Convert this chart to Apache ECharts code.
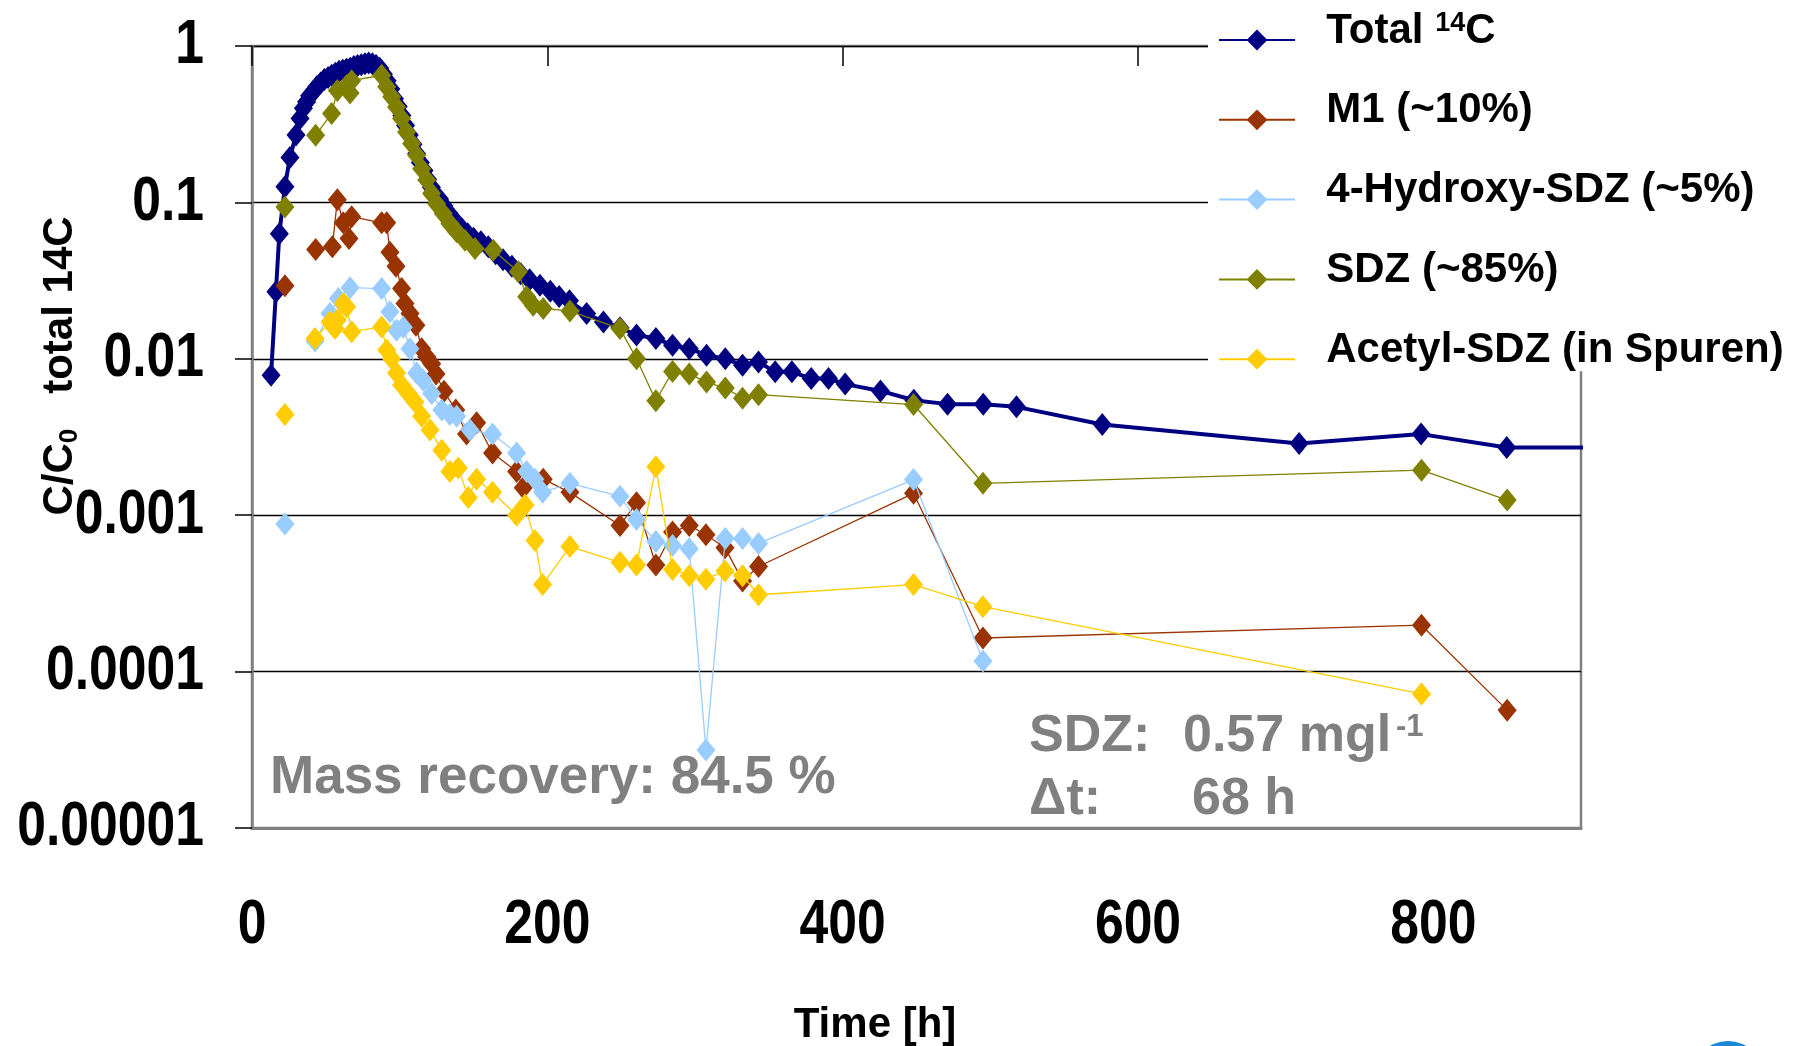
<!DOCTYPE html>
<html>
<head>
<meta charset="utf-8">
<title>SDZ breakthrough</title>
<script src="https://cdn.jsdelivr.net/npm/echarts@6/dist/echarts.min.js"></script>
<style>
  html, body { margin: 0; padding: 0; background: #fff; }
  #chart { width: 1795px; height: 1046px; }
</style>
</head>
<body>
<div id="chart"></div>
<script>
// values (time in h, C/C0); null = no sample, line breaks there
const seriesNames = ['Total 14C', 'M1 (~10%)', '4-Hydroxy-SDZ (~5%)', 'SDZ (~85%)', 'Acetyl-SDZ (in Spuren)'];
const xTickLabels = ['0', '200', '400', '600', '800'];
const yTickLabels = ['0.00001', '0.0001', '0.001', '0.01', '0.1', '1'];

const totalT = [12.9, 16.2, 18.5, 22.3, 25.7, 29.8, 32.5, 34.8, 37, 39, 41.5, 44, 46.5, 49, 51.5, 54, 56.5, 59, 61.5, 64,
  66.5, 69, 71.5, 74, 76.5, 79, 81.5, 84, 86.5, 89, 91.5, 94, 96.5, 99, 101.5, 104, 106.5, 109, 111.5, 114,
  116.5, 119, 121.5, 124, 127, 130, 133, 136, 139, 142, 146, 150, 155, 160, 165, 170, 176, 182, 188, 195,
  202, 208, 215, 226.6, 238, 249.2, 260.4, 273.5, 284.8, 296.1, 307.8, 320.5, 332.2, 343, 354.3, 365.6, 378.7, 390.4, 401.7, 425.6,
  448.2, 471, 495.2, 517.7, 575.8, 709.1, 791.7, 849.7, 908];
const totalV = [0.00785, 0.0268, 0.063, 0.126, 0.194, 0.27, 0.344, 0.40, 0.44, 0.48, 0.51, 0.55, 0.58, 0.61, 0.63, 0.65, 0.67, 0.69, 0.70, 0.71,
  0.72, 0.74, 0.75, 0.76, 0.77, 0.78, 0.77, 0.75, 0.72, 0.66, 0.60, 0.53, 0.46, 0.41, 0.36, 0.31, 0.27, 0.235, 0.205, 0.18,
  0.16, 0.14, 0.125, 0.112, 0.105, 0.095, 0.086, 0.079, 0.073, 0.068, 0.063, 0.059, 0.056, 0.052, 0.047, 0.043, 0.039, 0.035, 0.032, 0.0295,
  0.027, 0.025, 0.0235, 0.0195, 0.0172, 0.0158, 0.0142, 0.0135, 0.0122, 0.0116, 0.01055, 0.0100, 0.0091, 0.00955, 0.00825, 0.00825, 0.00748, 0.00748, 0.00689, 0.00623,
  0.00543, 0.00513, 0.00513, 0.00493, 0.0038, 0.00287, 0.0033, 0.00271, 0.00271];

const m1T = [22.3, 30, 43.1, 54.4, 57.8, 61.8, 65.7, 67.5, 87.8, 91.2, 93.4, 97.5, 101.3, 103.6, 107, 111, 114.9, 118.3, 121.7, 124.6, 130,
  138, 145.3, 152.1, 162.9, 179.2, 183.7, 197.2, 215.3, 249.2, 260.4, 273.5, 284.8, 296.1, 307.4, 320.3, 332.2, 343, 448, 495, 792, 850];
const m1V = [0.0293, null, 0.050, 0.052, 0.104, 0.074, 0.0587, 0.081, 0.074, 0.074, 0.048, 0.039, 0.0281, 0.0226, 0.0195, 0.0164, 0.0116, 0.0103, 0.0093, 0.0080, 0.0062,
  0.0047, 0.0033, 0.0039, 0.0025, 0.0019, 0.0015, 0.0017, 0.0014, 0.00086, 0.0012, 0.00048, 0.00078, 0.00086, 0.00075, 0.00062, 0.00038, 0.00047, 0.00138, 0.000164, 0.000198, 0.0000567];

const hydT = [22.3, 30, 42.7, 52.8, 58.5, 66.4, 87.8, 93.4, 97.9, 102.5, 107, 111.5, 116, 121.7, 128.5, 134, 138.6, 147.6, 162.9, 179.2, 186,
  191.6, 196.8, 215.3, 249.2, 260.4, 273.5, 284.8, 296.1, 307.4, 320.5, 332.2, 343, 448, 495];
const hydV = [0.00088, null, 0.0130, 0.0195, 0.0243, 0.0285, 0.0281, 0.020, 0.0152, 0.0159, 0.0116, 0.0081, 0.0073, 0.0060, 0.0047, 0.0044, 0.0043, 0.0035, 0.0033, 0.0025, 0.0019,
  0.0017, 0.0014, 0.0016, 0.00132, 0.00094, 0.00068, 0.00064, 0.00061, 0.0000315, 0.00071, 0.00071, 0.00066, 0.00169, 0.000117];

const sdzT = [22.3, 30, 43.1, 53.9, 57.8, 64.1, 66.4, 67.5, 87.8, 91.2, 94.6, 97.9, 101.3, 104.7, 108.1, 111.5, 114.9, 118.3, 121.6, 125, 129.5,
  134, 138.6, 144.2, 151, 163.4, 180.3, 186, 190.4, 197.2, 215.3, 249.2, 260.4, 273.5, 284.8, 296.1, 307.8, 320.5, 332.2, 343, 448,
  495, 792, 850];
const sdzV = [0.0936, null, 0.269, 0.37, 0.52, 0.56, 0.50, 0.60, 0.65, 0.548, 0.473, 0.408, 0.344, 0.282, 0.238, 0.2, 0.164, 0.139, 0.114, 0.098, 0.085,
  0.073, 0.065, 0.0573, 0.0507, 0.0494, 0.036, 0.0249, 0.022, 0.021, 0.0202, 0.0156, 0.0100, 0.0054, 0.0083, 0.0080, 0.0071, 0.0065, 0.0056, 0.0059, 0.0051,
  0.0016, 0.00194, 0.00125];

const acT = [22.3, 30, 42.7, 52.8, 56.2, 57.8, 61.8, 64.1, 67.5, 87.8, 91.2, 94.5, 97.9, 101.3, 105.8, 110.4, 114.9, 120.6, 128.5, 134, 139.7,
  146.5, 152.1, 162.9, 179.2, 184.9, 191.6, 196.8, 215.3, 249.2, 260.4, 273.5, 284.8, 296.1, 307.4, 320.3, 332.2, 343, 448, 495, 792];
const acV = [0.0044, null, 0.0135, 0.0172, 0.0156, 0.0177, 0.0226, 0.0215, 0.0149, 0.016, 0.0114, 0.0100, 0.0081, 0.0068, 0.0060, 0.0053, 0.0043, 0.0035, 0.0026, 0.0019, 0.0020,
  0.0013, 0.0017, 0.0014, 0.0010, 0.00116, 0.00069, 0.00036, 0.00063, 0.00050, 0.00048, 0.00204, 0.00045, 0.00041, 0.00039, 0.00044, 0.00041, 0.00031, 0.00036, 0.00026, 0.000072];

const colors = ['#000080', '#993300', '#99ccff', '#808000', '#ffcc00'];

const FONT = "'Liberation Sans', Arial, sans-serif";
// tick labels in the original are a narrow bold face; no narrow font here, so squeeze it
const TICK_FONT = 'bold 63px ' + FONT;
const TICK_SQUEEZE = 0.82;

function pairs(t, v) {
  return t.map((x, i) => [x, v[i] === null ? '-' : v[i]]);
}

const totalData = pairs(totalT, totalV);
// the last total point only carries the line past the frame
totalData[totalData.length - 1] = { value: totalData[totalData.length - 1], symbol: 'none' };

function lineSeries(idx, data, width) {
  return {
    name: seriesNames[idx],
    type: 'line',
    data: data,
    symbol: 'diamond',
    symbolSize: [19, 23],
    showAllSymbol: true,
    connectNulls: false,
    clip: idx !== 0,
    lineStyle: { color: colors[idx], width: width },
    itemStyle: { color: colors[idx] },
    emphasis: { disabled: true },
    z: 3 + idx
  };
}

const chart = echarts.init(document.getElementById('chart'));

const graphics = [
  {
    type: 'text', x: 60, y: 366, rotation: Math.PI / 2,
    style: {
      text: '{a|C/C}{s|0}{a|   total 14C}',
      align: 'center', verticalAlign: 'middle',
      rich: {
        a: { fontFamily: FONT, fontSize: 42, fontWeight: 'bold', fill: '#000', lineHeight: 46 },
        s: { fontFamily: FONT, fontSize: 26, fontWeight: 'bold', fill: '#000', lineHeight: 46, verticalAlign: 'bottom', padding: [12, 0, 0, 0] }
      }
    }
  },
  {
    type: 'text', x: 875, y: 1025,
    style: { text: 'Time [h]', font: 'bold 42px ' + FONT, fill: '#000', align: 'center', verticalAlign: 'middle' }
  },
  {
    type: 'text', x: 270, y: 778,
    style: { text: 'Mass recovery: 84.5 %', font: 'bold 53px ' + FONT, fill: '#808080', align: 'left', verticalAlign: 'middle' }
  },
  {
    type: 'text', x: 1029, y: 737,
    style: { text: 'SDZ:', font: 'bold 52px ' + FONT, fill: '#808080', align: 'left', verticalAlign: 'middle' }
  },
  {
    type: 'text', x: 1183, y: 737,
    style: { text: '0.57 mgl', font: 'bold 52px ' + FONT, fill: '#808080', align: 'left', verticalAlign: 'middle' }
  },
  {
    type: 'text', x: 1396, y: 727,
    style: { text: '-1', font: 'bold 31px ' + FONT, fill: '#808080', align: 'left', verticalAlign: 'middle' }
  },
  {
    type: 'text', x: 1029, y: 800,
    style: { text: '\u0394t:', font: 'bold 52px ' + FONT, fill: '#808080', align: 'left', verticalAlign: 'middle' }
  },
  {
    type: 'text', x: 1192, y: 800,
    style: { text: '68 h', font: 'bold 52px ' + FONT, fill: '#808080', align: 'left', verticalAlign: 'middle' }
  },
  {
    type: 'circle', shape: { cx: 1728, cy: 1077, r: 36 },
    style: { fill: '#1a8ad8' }
  }
];

const option = {
  animation: false,
  backgroundColor: '#fff',
  grid: {
    left: 252, top: 46, width: 1329, height: 782,
    outerBoundsMode: 'none',
    show: true, borderColor: '#808080', borderWidth: 2.5
  },
  legend: {
    data: seriesNames,
    orient: 'vertical',
    left: 1208, top: 0,
    padding: [10, 20, 0, 10],
    itemWidth: 76, itemHeight: 26,
    itemGap: 37.8,
    backgroundColor: '#fff',
    selectedMode: false,
    textStyle: {
      fontFamily: FONT, fontSize: 42, fontWeight: 'bold', color: '#000',
      padding: [0, 0, 0, 26],
      rich: {
        // g only sets a taller line box; t sits at its top so the text rides a bit above the icon
        g: { fontSize: 1, lineHeight: 60 },
        t: { fontFamily: FONT, fontSize: 42, fontWeight: 'bold', color: '#000', lineHeight: 44, verticalAlign: 'top' },
        sup: { fontFamily: FONT, fontSize: 27, fontWeight: 'bold', color: '#000', lineHeight: 27, verticalAlign: 'top' }
      }
    },
    formatter: function (name) {
      if (name === seriesNames[0]) return '{g| }{t|Total }{sup|14}{t|C}';
      return '{g| }{t|' + name + '}';
    }
  },
  xAxis: [{
    type: 'value', min: 0, max: 900, interval: 200,
    axisLine: { show: true, onZero: false, lineStyle: { color: '#808080', width: 3 } },
    axisTick: { show: false },
    splitLine: { show: false },
    axisLabel: { show: false }
  }, {
    type: 'value', position: 'top', min: 0, max: 900, interval: 200,
    axisLine: { show: false, onZero: false },
    axisTick: { show: true, inside: true, length: 20, lineStyle: { color: '#000', width: 1.5 } },
    axisLabel: { show: false },
    splitLine: { show: false }
  }],
  yAxis: {
    type: 'log', logBase: 10, min: 0.00001, max: 1,
    axisLine: { show: true, onZero: false, lineStyle: { color: '#808080', width: 2.5 } },
    axisTick: { show: true, length: 17, lineStyle: { color: '#000', width: 1.5 } },
    splitLine: { show: true, lineStyle: { color: '#000', width: 1.3 } },
    axisLabel: { show: false }
  },
  series: [
    lineSeries(0, totalData, 4),
    lineSeries(1, pairs(m1T, m1V), 1.3),
    lineSeries(2, pairs(hydT, hydV), 1.3),
    lineSeries(3, pairs(sdzT, sdzV), 1.3),
    lineSeries(4, pairs(acT, acV), 1.3)
  ],
  graphic: graphics
};

chart.setOption(option);

// tick labels placed through the axes' own scales, squeezed horizontally
const tickTexts = [];
yTickLabels.forEach(function (lab) {
  const py = chart.convertToPixel({ yAxisIndex: 0 }, Number(lab));
  const px = chart.convertToPixel({ xAxisIndex: 0 }, 0) - 48;
  tickTexts.push({
    type: 'text', x: px, y: py, scaleX: TICK_SQUEEZE,
    style: { text: lab, font: TICK_FONT, fill: '#000', align: 'right', verticalAlign: 'middle' }
  });
});
xTickLabels.forEach(function (lab) {
  const px = chart.convertToPixel({ xAxisIndex: 0 }, Number(lab));
  const py = chart.convertToPixel({ yAxisIndex: 0 }, 0.00001) + 98;
  tickTexts.push({
    type: 'text', x: px, y: py, scaleX: TICK_SQUEEZE,
    style: { text: lab, font: TICK_FONT, fill: '#000', align: 'center', verticalAlign: 'middle' }
  });
});
chart.setOption({ graphic: graphics.concat(tickTexts) });
</script>
</body>
</html>
